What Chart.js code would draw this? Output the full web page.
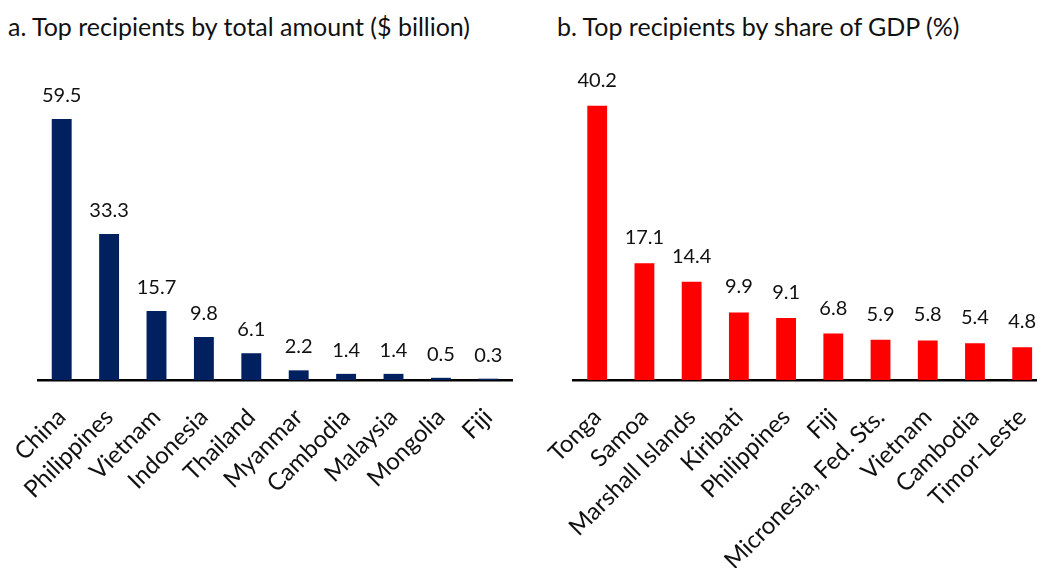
<!DOCTYPE html>
<html>
<head>
<meta charset="utf-8">
<script src="https://cdn.jsdelivr.net/npm/chart.js@4/dist/chart.umd.min.js"></script>
<style>
  html, body { margin: 0; padding: 0; width: 1037px; height: 568px; overflow: hidden; background: #fff; font-family: Lato, sans-serif; }
  .panel { position: absolute; top: 0; height: 568px; }
  #wrapA { left: 0; width: 530px; }
  #wrapB { left: 540px; width: 520px; }
  .title { position: absolute; top: 11px; font-size: 25px; line-height: 1.2; color: #111; white-space: nowrap; }
  #titleA { left: 8px; }
  #titleB { left: 557px; }
</style>
</head>
<body>
<div id="titleA" class="title">a. Top recipients by total amount ($ billion)</div>
<div id="titleB" class="title">b. Top recipients by share of GDP (%)</div>
<div id="wrapA" class="panel"><canvas id="chartA" width="530" height="568"></canvas></div>
<div id="wrapB" class="panel"><canvas id="chartB" width="520" height="568"></canvas></div>
<script>
// Panel a: total amount, $ billion
const amountCountries = ['China', 'Philippines', 'Vietnam', 'Indonesia', 'Thailand', 'Myanmar', 'Cambodia', 'Malaysia', 'Mongolia', 'Fiji'];
const amountValues = [59.5, 33.3, 15.7, 9.8, 6.1, 2.2, 1.4, 1.4, 0.5, 0.3];

// Panel b: share of GDP, %
const gdpCountries = ['Tonga', 'Samoa', 'Marshall Islands', 'Kiribati', 'Philippines', 'Fiji', 'Micronesia, Fed. Sts.', 'Vietnam', 'Cambodia', 'Timor-Leste'];
const gdpValues = [40.2, 17.1, 14.4, 9.9, 9.1, 6.8, 5.9, 5.8, 5.4, 4.8];

const FONT = 'Lato, sans-serif';

// Writes each bar's value just above its top
const valueLabels = {
  id: 'valueLabels',
  afterDatasetsDraw(chart, args, opts) {
    const ctx = chart.ctx;
    ctx.save();
    ctx.font = '20px ' + FONT;
    ctx.fillStyle = '#111';
    ctx.textAlign = 'center';
    ctx.textBaseline = 'alphabetic';
    const meta = chart.getDatasetMeta(0);
    const data = chart.data.datasets[0].data;
    meta.data.forEach((bar, i) => {
      ctx.fillText(data[i].toFixed(1), bar.x, bar.y - opts.gap);
    });
    ctx.restore();
  }
};

function makeChart(id, labels, values, color, yMax, pad, gap) {
  return new Chart(document.getElementById(id), {
    type: 'bar',
    data: {
      labels: labels,
      datasets: [{
        data: values,
        backgroundColor: color,
        borderWidth: 0,
        categoryPercentage: 1.0,
        barPercentage: 0.42
      }]
    },
    options: {
      responsive: false,
      animation: false,
      devicePixelRatio: 1,
      layout: { padding: pad },
      plugins: {
        legend: { display: false },
        tooltip: { enabled: false },
        title: { display: false },
        valueLabels: { gap: gap }
      },
      scales: {
        x: {
          grid: { display: false },
          border: { display: true, color: '#000', width: 2.5 },
          ticks: {
            autoSkip: false,
            maxRotation: 45,
            minRotation: 45,
            padding: 15,
            color: '#111',
            font: { family: FONT, size: 24 }
          },
          // fixed axis band; the plot width comes from the layout padding only
          afterFit(scale) {
            scale.height = 188;
            scale.paddingLeft = 0;
            scale.paddingRight = 0;
          }
        },
        y: {
          display: false,
          min: 0,
          max: yMax
        }
      }
    },
    plugins: [valueLabels]
  });
}

makeChart('chartA', amountCountries, amountValues, '#002060', 86.6, { left: 38, right: 18, top: 0, bottom: 0 }, 17);
makeChart('chartB', gdpCountries, gdpValues, '#FF0000', 55.7, { left: 33.6, right: 14.2, top: 0, bottom: 0 }, 19);
</script>
</body>
</html>
